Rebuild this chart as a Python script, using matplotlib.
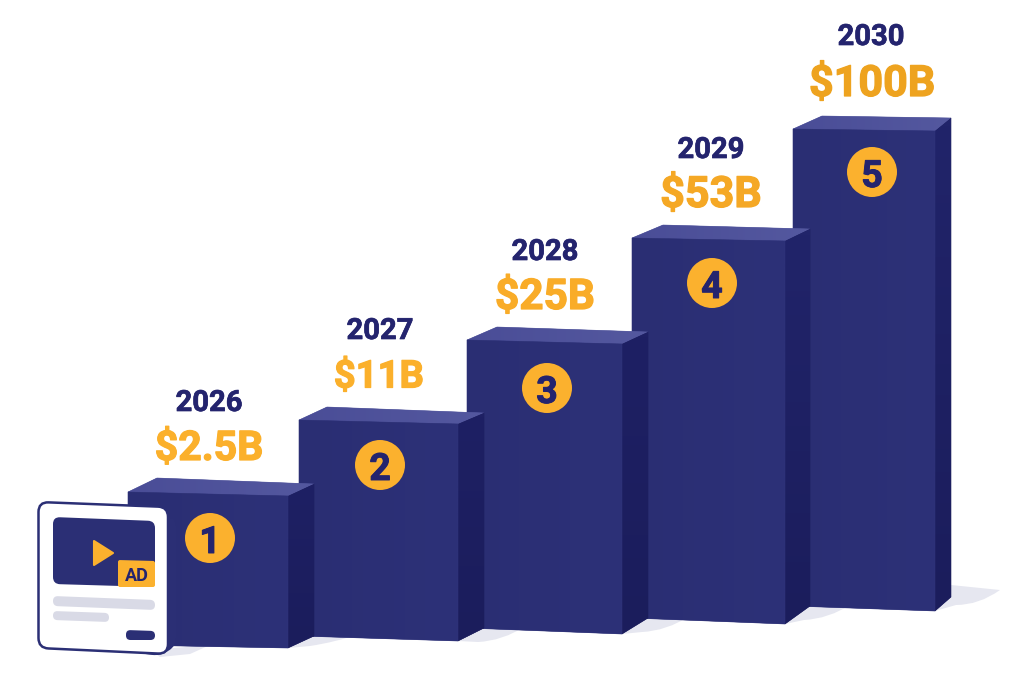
import numpy as np
import matplotlib
matplotlib.use("Agg")
import matplotlib.pyplot as plt
import matplotlib.patheffects as pe
from matplotlib.patches import Polygon, Circle, PathPatch
from matplotlib.path import Path
from matplotlib.colors import LinearSegmentedColormap

years = ["2026", "2027", "2028", "2029", "2030"]
amounts = ["$2.5B", "$11B", "$25B", "$53B", "$100B"]
ranks = ["1", "2", "3", "4", "5"]
amount_colors = ["#FBB02B", "#FBB02B", "#F9AC28", "#F5A825", "#EEA31F"]

# box outlines (pixels)
front_left = [128, 299, 467, 632, 793]
front_right = [288, 458, 622, 785, 935]
side_right = [314, 484, 648, 810, 951]
back_left = [157, 327, 497, 663, 822]
top_left_y = [492, 420, 340, 238, 129]
top_right_y = [496, 424, 344, 241, 131]
top_side_y = [484, 413, 332, 229, 118]
top_back_y = [478, 407, 327, 225, 116]
bottom_left_y = [645, 636, 628, 618, 606]
bottom_right_y = [648, 641, 634, 624, 611]
bottom_side_y = [636, 628, 618, 606, 597]
circle_x = [210, 380, 547, 712, 872]
circle_y = [538, 465, 388, 283, 172]
year_x = [209, 380, 545, 711, 871]
year_y = [400, 328, 249, 147, 34]
amount_x = [209, 379, 545, 711, 872]
amount_y = [445, 373, 293, 191, 80]
amount_size = [29.5, 27.5, 30.5, 31, 31]

FONT = "Roboto"
NAVY = "#2B2F75"
DARK = "#1B1D5C"
YEAR = "#24246E"
GOLD = "#FBB12E"

fig = plt.figure(figsize=(10.24, 6.83), dpi=100, facecolor="white")
ax = fig.add_axes([0, 0, 1, 1])
ax.set_xlim(0, 1024)
ax.set_ylim(683, 0)
ax.axis("off")


def heavy(color, w=0.7):
    return [pe.withStroke(linewidth=w, foreground=color)]


def grad_poly(pts, c0, c1, horizontal=True, z=1):
    poly = Polygon(pts, closed=True, fc=c1, ec=c1, lw=0.4, zorder=z)
    ax.add_patch(poly)
    pts = np.array(pts)
    cmap = LinearSegmentedColormap.from_list("g", [c0, c1])
    g = np.linspace(0, 1, 64)
    g = g[None, :] if horizontal else g[:, None]
    im = ax.imshow(g, cmap=cmap, vmin=0, vmax=1, aspect="auto", zorder=z + 0.01,
                   extent=[pts[:, 0].min(), pts[:, 0].max(), pts[:, 1].max(), pts[:, 1].min()])
    im.set_clip_path(poly)


def round_quad(pts, r, fc, ec="none", lw=0, z=5):
    pts = np.array(pts, float)
    n = len(pts)
    verts, codes = [], []
    for i in range(n):
        p, a, b = pts[i], pts[i - 1], pts[(i + 1) % n]
        u = (a - p) / np.linalg.norm(a - p)
        v = (b - p) / np.linalg.norm(b - p)
        verts += [p + u * r, p, p + v * r]
        codes += [Path.MOVETO if i == 0 else Path.LINETO, Path.CURVE3, Path.CURVE3]
    verts.append(verts[0])
    codes.append(Path.CLOSEPOLY)
    ax.add_patch(PathPatch(Path(verts, codes), fc=fc, ec=ec, lw=lw, zorder=z))


# ground shadows
for i in range(5):
    xr, xs = front_right[i], side_right[i]
    yb, ys = bottom_right_y[i], bottom_side_y[i]
    if i == 4:
        verts = [(xr, yb), (xs, ys - 12), (xs + 49, ys - 7), (xs + 28, ys + 8), (xs + 5, ys + 8), (xr, yb)]
    elif i == 0:
        verts = [(xr, yb), (xs, ys - 2), (xs + 45, ys - 2), (xs + 22, ys + 6), (xs - 4, ys + 10), (xr, yb)]
    else:
        verts = [(xr, yb), (xs, ys - 2), (xs + 42, ys - 2), (xs + 18, ys + 13), (xs - 6, ys + 14), (xr, yb)]
    codes = [Path.MOVETO, Path.LINETO, Path.LINETO, Path.CURVE3, Path.CURVE3, Path.LINETO]
    ax.add_patch(PathPatch(Path(verts, codes), fc="#E6E7F0", ec="none", zorder=0.5))
ax.add_patch(Polygon([(150, 650), (210, 645), (190, 654), (160, 657)], closed=True,
                     fc="#E6E7F0", ec="none", zorder=0.5))

# boxes, far to near
for i in range(4, -1, -1):
    z = 10 - 2 * i
    grad_poly([(back_left[i], top_back_y[i]), (side_right[i], top_side_y[i]),
               (front_right[i], top_right_y[i]), (front_left[i], top_left_y[i])],
              "#4A4D97", "#54589F", True, z)
    grad_poly([(front_right[i], top_right_y[i]), (side_right[i], top_side_y[i]),
               (side_right[i], bottom_side_y[i]), (front_right[i], bottom_right_y[i])],
              "#21246A" if i > 2 else "#1E2064", DARK, False, z)
    grad_poly([(front_left[i], top_left_y[i]), (front_right[i], top_right_y[i]),
               (front_right[i], bottom_right_y[i]), (front_left[i], bottom_left_y[i])],
              "#2A2E73", "#2D3178", True, z + 0.1)
    ax.add_patch(Circle((circle_x[i], circle_y[i]), 25, fc=GOLD, ec="none", zorder=z + 0.5))
    ax.text(circle_x[i], circle_y[i] + 0.5, ranks[i], ha="center", va="center_baseline",
            fontsize=27, fontweight="bold", family=FONT, color=YEAR, zorder=z + 0.6,
            path_effects=heavy(YEAR))

for i in range(5):
    ax.text(year_x[i], year_y[i], years[i], ha="center", va="center_baseline",
            fontsize=21, fontweight="bold", family=FONT, color=YEAR, zorder=20,
            path_effects=heavy(YEAR, 0.5))
    ax.text(amount_x[i], amount_y[i], amounts[i], ha="center", va="center_baseline",
            fontsize=amount_size[i], fontweight="bold", family=FONT, color=amount_colors[i], zorder=20,
            path_effects=heavy(amount_colors[i], 0.9))

# ad card
round_quad([(44, 510), (176, 518), (176, 646), (160, 656), (44, 640)], 8, "#2B2F75", z=21)
round_quad([(38.5, 502), (168, 507), (168, 654), (38.5, 648)], 10, "white", ec="#2B2F75", lw=1.8, z=22)
round_quad([(53, 517), (155, 521), (155, 587), (53, 584)], 7, NAVY, z=23)
ax.add_patch(Polygon([(94, 541), (113, 553), (94, 565)], closed=True, fc=GOLD, ec=GOLD, lw=1.5,
                     joinstyle="round", zorder=24))
round_quad([(118, 560), (155, 561), (155, 587), (118, 587)], 2, GOLD, z=24)
ax.text(136.5, 574, "AD", ha="center", va="center_baseline", fontsize=13, fontweight="bold",
        family=FONT, color=YEAR, zorder=25)
round_quad([(53, 596), (155, 600), (155, 610), (53, 606)], 5, "#D9DAE6", z=23)
round_quad([(53, 611), (109, 613), (109, 622), (53, 620)], 4.5, "#D9DAE6", z=23)
round_quad([(126, 630), (155, 631), (155, 640), (126, 640)], 4.5, NAVY, z=23)

fig.savefig("out.png", dpi=100, facecolor="white")
